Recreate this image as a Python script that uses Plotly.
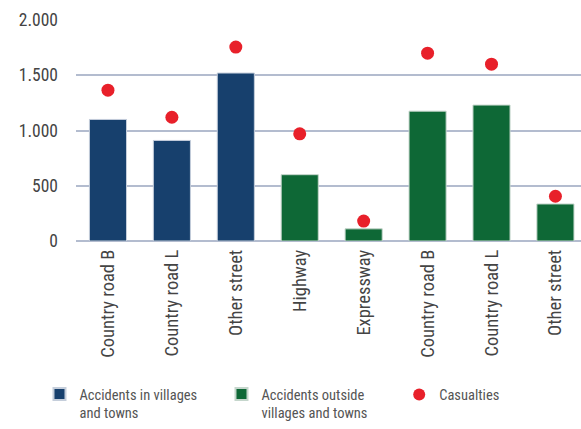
import plotly.graph_objects as go

categories = ["Country road B", "Country road L", "Other street", "Highway",
              "Expressway", "Country road B ", "Country road L ", "Other street "]
inside_idx = [0, 1, 2]
outside_idx = [3, 4, 5, 6, 7]
accidents_inside = [1100, 910, 1520]
accidents_outside = [600, 110, 1175, 1230, 335]
casualties = [1365, 1120, 1755, 970, 180, 1700, 1600, 405]
y_ticks = [0, 500, 1000, 1500, 2000]
y_tick_labels = ["0", "500", "1.000", "1.500", "2.000"]

FONT = "Roboto Condensed, Liberation Sans Narrow, Roboto, Arial, sans-serif"
BLUE = "#17406d"
GREEN = "#0e6836"
RED = "#e8202a"
GRID = "#b3bccf"

fig = go.Figure()
fig.add_trace(go.Bar(
    x=[categories[i] for i in inside_idx], y=accidents_inside,
    name="Accidents in villages<br>and towns",
    marker=dict(color=BLUE, line=dict(color="#c5cedb", width=1)),
    width=0.58, legend="legend",
))
fig.add_trace(go.Bar(
    x=[categories[i] for i in outside_idx], y=accidents_outside,
    name="Accidents outside<br>villages and towns",
    marker=dict(color=GREEN, line=dict(color="#c5d6cc", width=1)),
    width=0.58, legend="legend",
))
fig.add_trace(go.Scatter(
    x=categories, y=casualties, mode="markers", name="Casualties",
    marker=dict(color=RED, size=13), legend="legend2",
))

legend_common = dict(
    orientation="h", xanchor="left", y=-0.622, yanchor="top",
    font=dict(size=14.5, color="#555555"),
    itemsizing="constant", tracegroupgap=0, valign="top",
    bgcolor="rgba(0,0,0,0)",
)

fig.update_layout(
    width=581, height=429,
    margin=dict(l=76, r=0, t=20, b=188),
    plot_bgcolor="white", paper_bgcolor="white",
    font=dict(family=FONT, color="#444444", size=15),
    barmode="overlay",
    showlegend=True,
    legend=dict(x=-0.0723, entrywidth=137, entrywidthmode="pixels", **legend_common),
    legend2=dict(x=0.64, **legend_common),
)
fig.update_xaxes(
    type="category", categoryorder="array", categoryarray=categories,
    range=[-0.5, 7.4], tickangle=-90, showgrid=False,
    showline=False, ticks="", automargin=False, ticklabelstandoff=4,
    tickfont=dict(size=18.5, color="#444444"),
    tickvals=categories, ticktext=[c.strip() for c in categories],
)
fig.update_yaxes(
    range=[0, 2000], tickvals=y_ticks, ticktext=y_tick_labels,
    showgrid=True, gridcolor=GRID, gridwidth=1.5, automargin=False,
    zeroline=True, zerolinecolor=GRID, zerolinewidth=1.5,
    showline=False, ticks="", ticklabelstandoff=17,
    tickfont=dict(size=17.5, color="#444444"),
)

fig.write_html("out.html", config={"displayModeBar": False},
               post_script="document.body.style.margin='0';")
